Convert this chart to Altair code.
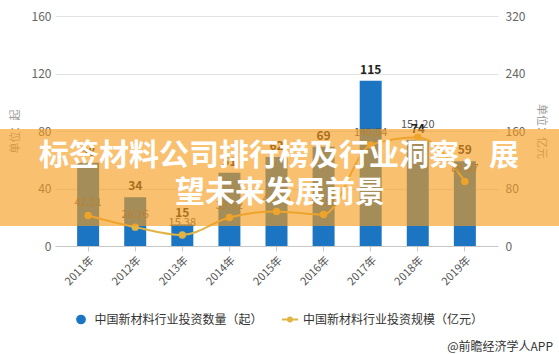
import altair as alt
import pandas as pd

years = ["2011年", "2012年", "2013年", "2014年", "2015年", "2016年", "2017年", "2018年", "2019年"]
counts = [58, 34, 15, 51, 62, 69, 115, 74, 59]
scales = [42.51, 26.26, 15.38, 39.62, 48.15, 43.80, 140.54, 151.20, 89.87]

series_names = ["中国新材料行业投资数量（起）", "中国新材料行业投资规模（亿元）"]
title_lines = ["标签材料公司排行榜及行业洞察，展", "望未来发展前景"]
credit = "@前瞻经济学人APP"
left_ticks = [0, 40, 80, 120, 160]
right_ticks = [0, 80, 160, 240, 320]

BLUE = "#1b75c2"
GOLD = "#e2b443"
FONT = "Noto Sans CJK SC"

df = pd.DataFrame({"year": years, "count": counts, "scale": scales})
one = pd.DataFrame({"k": [0]})

x = alt.X(
    "year:N",
    sort=years,
    scale=alt.Scale(paddingInner=0.533, paddingOuter=0.47),
    axis=alt.Axis(
        title=None, labelAngle=315, labelFontSize=11, labelColor="#555",
        domainColor="#c8c8c8", tickColor="#c8c8c8", tickSize=5, labelPadding=3,
        labelFont=FONT,
    ),
)

y_left = alt.Y(
    "count:Q",
    scale=alt.Scale(domain=[0, 160]),
    axis=alt.Axis(
        orient="left", values=left_ticks, title="单位：起", grid=True,
        gridColor="#e2e2e2", domain=False, ticks=False, labelPadding=4,
        labelFontSize=12, labelColor="#666", titleFontSize=11, titleColor="#999",
        titleFontWeight="normal", titleAngle=270, titleX=-40, titleY=115,
        titleAlign="center", titleBaseline="middle", labelFont=FONT, titleFont=FONT,
    ),
)
y_left_noaxis = alt.Y("count:Q", scale=alt.Scale(domain=[0, 160]), axis=None)

y_right = alt.Y(
    "scale:Q",
    scale=alt.Scale(domain=[0, 320]),
    axis=alt.Axis(
        orient="right", values=right_ticks, title="单位：亿元", grid=False,
        domain=False, ticks=False, labelPadding=7, labelFontSize=12,
        labelColor="#666", titleFontSize=11, titleColor="#999",
        titleFontWeight="normal", titleAngle=90, titleX=42, titleY=115,
        titleAlign="center", titleBaseline="middle", labelFont=FONT, titleFont=FONT,
    ),
)
y_right_noaxis = alt.Y("scale:Q", scale=alt.Scale(domain=[0, 320]), axis=None)

base = alt.Chart(df)
bars = base.mark_bar(color=BLUE).encode(x=x, y=y_left)
line = base.mark_line(color=GOLD, strokeWidth=2, interpolate="monotone").encode(x=x, y=y_right)
pts = base.mark_point(filled=True, size=55, color=GOLD, opacity=1).encode(x=x, y=y_right_noaxis)
line_text = base.mark_text(dy=-12, fontSize=11, color="#555", font=FONT).encode(
    x=x, y=y_right_noaxis, text=alt.Text("scale:Q", format=".2f")
)
bar_text = base.mark_text(dy=-11, fontSize=12, fontWeight="bold", color="#222", font=FONT).encode(
    x=x, y=y_left_noaxis, text="count:Q"
)

data_chart = alt.layer(bars, line, pts, line_text, bar_text).resolve_scale(y="independent")

ob = alt.Chart(one)
banner = ob.mark_rect(color="#f59c1d", opacity=0.63).encode(
    x=alt.value(-55), x2=alt.value(504), y=alt.value(113), y2=alt.value(210)
)
t1 = ob.mark_text(fontSize=30, fontWeight="bold", color="white", font=FONT, baseline="middle").encode(
    x=alt.value(224), y=alt.value(140), text=alt.value(title_lines[0])
)
t2 = ob.mark_text(fontSize=30, fontWeight="bold", color="white", font=FONT, baseline="middle").encode(
    x=alt.value(225), y=alt.value(177), text=alt.value(title_lines[1])
)

leg_dot = ob.mark_point(filled=True, size=95, color=BLUE, opacity=1).encode(
    x=alt.value(26), y=alt.value(303.5)
)
leg_t1 = ob.mark_text(fontSize=12, color="#333", align="left", baseline="middle", font=FONT).encode(
    x=alt.value(39.5), y=alt.value(303.5), text=alt.value(series_names[0])
)
leg_line = ob.mark_rule(color=GOLD, strokeWidth=2).encode(
    x=alt.value(227), x2=alt.value(243), y=alt.value(303.5)
)
leg_pt = ob.mark_point(filled=True, size=35, color=GOLD, opacity=1).encode(
    x=alt.value(235), y=alt.value(303.5)
)
leg_t2 = ob.mark_text(fontSize=12, color="#333", align="left", baseline="middle", font=FONT).encode(
    x=alt.value(248), y=alt.value(303.5), text=alt.value(series_names[1])
)
cred = ob.mark_text(fontSize=12, color="#333", align="right", baseline="middle", font=FONT).encode(
    x=alt.value(498), y=alt.value(331), text=alt.value(credit)
)

chart = alt.layer(
    data_chart, banner, t1, t2, leg_dot, leg_t1, leg_line, leg_pt, leg_t2, cred
).properties(
    width=443,
    height=230,
    padding={"left": 55, "top": 16, "right": 61, "bottom": 108},
    autosize=alt.AutoSizeParams(type="none"),
    background="white",
).configure_view(stroke=None)

chart.save("out.html", embed_options={"renderer": "svg", "actions": False})
